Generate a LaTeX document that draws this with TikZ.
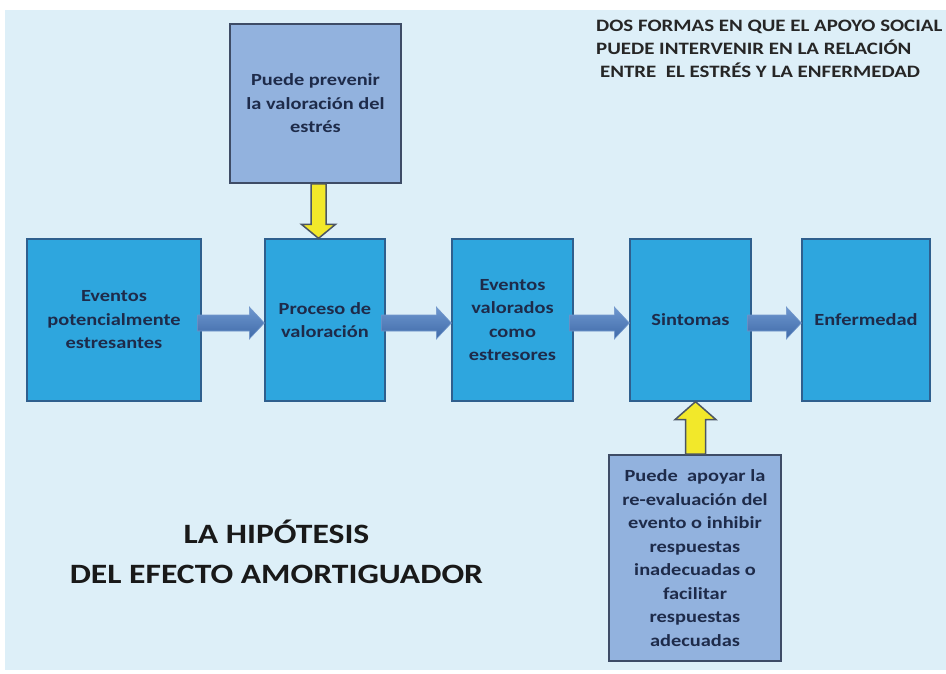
\documentclass[tikz,border=0pt]{standalone}
\usepackage{fontspec}
\setmainfont{Carlito}[FakeStretch=1.2]
\usetikzlibrary{calc}
\definecolor{bgc}{HTML}{DDEFF8}
\definecolor{mainfill}{HTML}{2EA6DE}
\definecolor{mainline}{HTML}{2F5F8E}
\definecolor{infofill}{HTML}{92B2DE}
\definecolor{infoline}{HTML}{3E4C66}
\definecolor{txt}{HTML}{1E2B4A}
\definecolor{arrfill}{HTML}{4F7DBE}
\definecolor{arrtop}{HTML}{6E97CF}
\definecolor{arrbot}{HTML}{3F6AA8}
\definecolor{yel}{HTML}{F2E82A}
\definecolor{yelline}{HTML}{4B5563}
\tikzset{
  mainbox/.style={draw=mainline, line width=1.3pt, fill=mainfill, minimum height=162pt, inner sep=0pt, align=center, text=txt, font=\fontsize{17}{23.5}\selectfont\bfseries},
  infobox/.style={draw=infoline, line width=1.8pt, fill=infofill, inner sep=0pt, align=center, text=txt, font=\fontsize{17}{23.5}\selectfont\bfseries},
  harrowsty/.style={draw=arrfill!80!white, line width=0.6pt, top color=arrtop, bottom color=arrbot},
  yarrowsty/.style={draw=yelline, line width=1.5pt, fill=yel},
  titletxt/.style={text=black!90, align=center, font=\fontsize{28}{40}\selectfont\bfseries},
  headtxt/.style={text=black!85, align=left, font=\fontsize{17.4}{23}\selectfont\bfseries, inner sep=0pt},
}
\begin{document}
\begin{tikzpicture}[x=1pt,y=-1pt]
\useasboundingbox (0,0) rectangle (946,673);
\fill[white] (0,0) rectangle (946,673);
\fill[bgc] (5,10) rectangle (946,670);

% main chain
\node[mainbox, minimum width=174pt] (b1) at (114,320) {Eventos\\potencialmente\\estresantes};
\node[mainbox, minimum width=120pt] (b2) at (325,320) {Proceso de\\valoración};
\node[mainbox, minimum width=121pt] (b3) at (512.5,320) {Eventos\\valorados\\como\\estresores};
\node[mainbox, minimum width=121pt] (b4) at (690.5,320) {Sintomas};
\node[mainbox, minimum width=128pt] (b5) at (866,320) {Enfermedad};

% info boxes
\node[infobox, minimum width=171pt, minimum height=159pt] (top) at (315.5,103.5) {Puede prevenir\\la valoración del\\estrés};
\node[infobox, minimum width=172pt, minimum height=206pt] (bot) at (695,558) {Puede\ \ apoyar la\\re-evaluación del\\evento o inhibir\\respuestas\\inadecuadas o\\facilitar\\respuestas\\adecuadas};

% texts
\node[titletxt] (title) at (276.5,552) {LA HIPÓTESIS\\DEL EFECTO AMORTIGUADOR};
\node[headtxt, anchor=north west] (head) at (596,20) {DOS FORMAS EN QUE EL APOYO SOCIAL\\PUEDE INTERVENIR EN LA RELACIÓN\\\hspace*{4pt}ENTRE\ \ EL ESTRÉS Y LA ENFERMEDAD};

% horizontal block arrows
\foreach \a/\b in {b1/b2,b2/b3,b3/b4,b4/b5}{
  \draw[harrowsty] ($(\a.east)+(-4,-5)$) -- ($(\b.west)+(-15,-5)$) -- ($(\b.west)+(-15,-13)$)
    -- ($(\b.west)+(0,3)$) -- ($(\b.west)+(-15,19)$) -- ($(\b.west)+(-15,11)$)
    -- ($(\a.east)+(-4,11)$) -- cycle;
}

% yellow arrow down: top -> b2
\coordinate (ya) at ($(top.south)+(3,0)$);
\coordinate (yb) at (ya |- b2.north);
\draw[yarrowsty] ($(ya)+(-7.5,0)$) -- ($(yb)+(-7.5,-14)$) -- ($(yb)+(-17,-14)$) -- (yb)
  -- ($(yb)+(17,-14)$) -- ($(yb)+(7.5,-14)$) -- ($(ya)+(7.5,0)$) -- cycle;

% yellow arrow up: bot -> b4
\coordinate (yc) at ($(bot.north)+(0.5,0)$);
\coordinate (yd) at (yc |- b4.south);
\draw[yarrowsty] ($(yc)+(-10,0)$) -- ($(yd)+(-10,18)$) -- ($(yd)+(-20.5,18)$) -- (yd)
  -- ($(yd)+(20.5,18)$) -- ($(yd)+(10,18)$) -- ($(yc)+(10,0)$) -- cycle;
\end{tikzpicture}
\end{document}
